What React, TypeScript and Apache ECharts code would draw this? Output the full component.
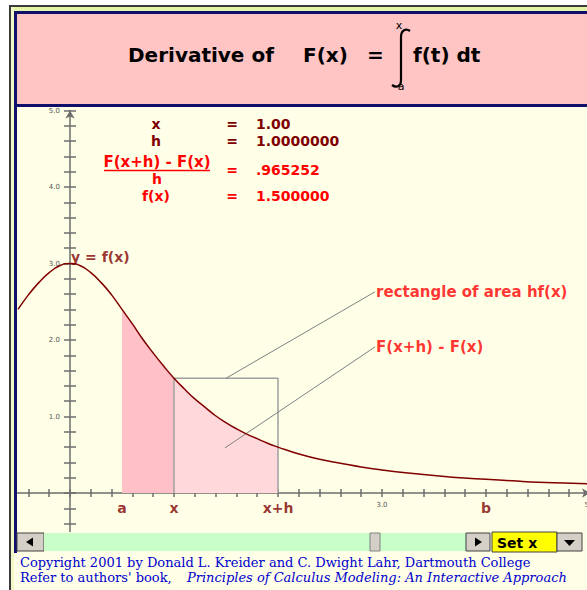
import React, { useEffect, useRef } from "react";
import * as echarts from "echarts";

// ---- data ----
const curveX = [-0.5, -0.4, -0.3, -0.2, -0.1, 0, 0.1, 0.2, 0.3, 0.4, 0.5, 0.6, 0.7, 0.8, 0.9, 1.0, 1.1, 1.2, 1.3, 1.4, 1.5, 1.6, 1.7, 1.8, 1.9, 2.0, 2.2, 2.4, 2.6, 2.8, 3.0, 3.25, 3.5, 3.75, 4.0, 4.25, 4.5, 4.75, 5.0];
const curveY = [2.40, 2.59, 2.75, 2.88, 2.97, 3.00, 2.97, 2.88, 2.75, 2.59, 2.40, 2.21, 2.01, 1.83, 1.66, 1.50, 1.36, 1.23, 1.12, 1.01, 0.92, 0.84, 0.77, 0.71, 0.65, 0.60, 0.51, 0.44, 0.39, 0.34, 0.30, 0.26, 0.23, 0.20, 0.18, 0.16, 0.14, 0.13, 0.12];

const markerNames = ["a", "x", "x+h", "b"];
const markerValues = [0.5, 1.0, 2.0, 4.0];

const xValue = 1.0;
const hValue = 1.0;
const quotientValue = 0.965252;
const fxValue = 1.5;

const xAxisLabelValues = [3, 5];
const yAxisLabelValues = [1, 2, 3, 4, 5];

const annotationNames = ["rectangle of area hf(x)", "F(x+h) - F(x)"];
const annotationFrom = [[2.933, 2.63], [2.933, 1.91]];
const annotationTo = [[1.5, 1.5], [1.49, 0.59]];

const curveLabel = "y = f(x)";

// ---- styling ----
const F = "DejaVu Sans";
const SERIF = "DejaVu Serif";
const DARK = "#800000";
const RED = "#ff0000";
const AX = "#6e6e6e";
const NAVY = "#10106a";
const PLOT_BG = "#ffffe8";

const isOneOf = (v: number, list: number[]) => list.some((t) => Math.abs(t - v) < 1e-6);

export default function App() {
  const ref = useRef<HTMLDivElement>(null);

  useEffect(() => {
    if (!ref.current) return;
    echarts.graphic.registerShape(
      "integralSign",
      echarts.graphic.extendPath("M 410 31 C 406 28 401 30 401 37 L 401 80 C 401 87 396 88 392 85", {})
    );
    const chart = echarts.init(ref.current, null, { renderer: "svg" });

    const curve = curveX.map((x, i) => [x, curveY[i]]);
    const darkArea = curve.filter((p) => p[0] >= markerValues[0] - 1e-9 && p[0] <= xValue + 1e-9);
    const lightArea = curve.filter((p) => p[0] >= xValue - 1e-9 && p[0] <= xValue + hValue + 1e-9);
    const rectData = [[xValue, 0], [xValue, fxValue], [xValue + hValue, fxValue], [xValue + hValue, 0]];

    const xMin = -0.6, xMax = 5.0, yMin = -0.6, yMax = 5.0;
    const gridLeft = 7.6, gridTop = 110.5, gridW = 582.4, gridH = 428.4;
    const xOffset = -(gridH * (0 - yMin) / (yMax - yMin));
    const yOffset = -(gridW * (0 - xMin) / (xMax - xMin));

    const baseText = { fontFamily: F, fontWeight: "bold", fontSize: 14 };
    const T = (text: string, x: number, y: number, fill: string, align = "left", extra: any = {}) => ({
      type: "text",
      z: 101,
      silent: true,
      style: { text, x, y, fill, align, verticalAlign: "middle", ...baseText, ...extra },
    });
    const R = (x: number, y: number, w: number, h: number, fill: string, stroke?: string) => ({
      type: "rect",
      z: 100,
      silent: true,
      shape: { x, y, width: w, height: h },
      style: stroke ? { fill, stroke, lineWidth: 1 } : { fill },
    });
    const P = (pts: number[][]) => ({
      type: "polygon",
      z: 101,
      silent: true,
      shape: { points: pts },
      style: { fill: "#000" },
    });

    const serifText = { fontFamily: SERIF, fontWeight: "normal", fontSize: 13 };

    const graphic: any[] = [
      R(0, 0, 587, 6, "#ffffff"),
      R(0, 0, 9, 590, "#ffffff"),
      R(9, 5, 578, 2, "#3a3a3a"),
      R(9, 5, 2, 585, "#3a3a3a"),
      R(11, 7, 576, 4, "#e4f4a8"),
      R(11, 7, 3, 583, "#f2f8c8"),
      R(14, 11, 573, 3, NAVY),
      R(14, 11, 3, 542, NAVY),
      R(17, 14, 570, 90, "#ffc4c4"),
      R(17, 104, 570, 3, NAVY),
      R(17, 532, 570, 21, PLOT_BG),
      R(14, 553, 573, 37, PLOT_BG),
      // title
      T("Derivative of", 128, 55, "#000", "left", { fontSize: 20 }),
      T("F(x)", 303, 55, "#000", "left", { fontSize: 20 }),
      T("=", 367, 55, "#000", "left", { fontSize: 20 }),
      T("f(t) dt", 413, 55, "#000", "left", { fontSize: 20 }),
      T("x", 399, 25, "#000", "center", { fontSize: 11, fontWeight: "normal" }),
      T("a", 401, 86, "#000", "center", { fontSize: 11, fontWeight: "normal" }),
      {
        type: "integralSign",
        z: 101,
        silent: true,
        x: 0,
        y: 0,
        style: { fill: "none", stroke: "#000", lineWidth: 2.2 },
      },
      // equation panel
      T("x", 156, 124, DARK, "center"),
      T("=", 232, 124, DARK, "center"),
      T(xValue.toFixed(2), 256, 124, DARK),
      T("h", 156, 141, DARK, "center"),
      T("=", 232, 141, DARK, "center"),
      T(hValue.toFixed(7), 256, 141, DARK),
      T("F(x+h) - F(x)", 157, 162, RED, "center", { fontSize: 15 }),
      {
        type: "line",
        z: 101,
        silent: true,
        shape: { x1: 104, y1: 170.5, x2: 210, y2: 170.5 },
        style: { stroke: RED, lineWidth: 1.5 },
      },
      T("h", 157, 179, RED, "center"),
      T("=", 232, 170, RED, "center"),
      T(quotientValue.toFixed(6).replace(/^0/, ""), 256, 170, RED),
      T("f(x)", 156, 196, RED, "center"),
      T("=", 232, 196, RED, "center"),
      T(fxValue.toFixed(6), 256, 196, RED),
      // scrollbar row
      R(17, 533, 27, 18, "#d4d0c8", "#404040"),
      P([[26, 542], [33, 537.5], [33, 546.5]]),
      R(44, 533, 422, 18, "#c8ffc8"),
      R(370, 533, 10, 18, "#d4d0c8", "#808080"),
      R(466, 533, 24, 18, "#d4d0c8", "#404040"),
      P([[475, 537.5], [482, 542], [475, 546.5]]),
      R(492, 532, 65, 20, "#ffff00", "#404040"),
      T("Set x", 497, 543, "#000", "left", { fontSize: 14 }),
      R(557, 533, 25, 18, "#d4d0c8", "#404040"),
      P([[564, 540], [575, 540], [569.5, 546]]),
      // copyright
      T("Copyright 2001 by Donald L. Kreider and C. Dwight Lahr, Dartmouth College", 20, 562, "#0000cc", "left", serifText),
      T("Refer to authors' book,", 20, 577, "#0000cc", "left", serifText),
      T("Principles of Calculus Modeling: An Interactive Approach", 187, 577, "#0000cc", "left", {
        ...serifText,
        fontStyle: "italic",
      }),
    ];

    const axisCommonX = {
      type: "value",
      min: xMin,
      max: xMax,
      interval: 0.2,
      position: "bottom",
      offset: xOffset,
      splitLine: { show: false },
    };
    const axisCommonY = {
      type: "value",
      min: yMin,
      max: yMax,
      interval: 0.2,
      position: "left",
      offset: yOffset,
      splitLine: { show: false },
    };

    const option: any = {
      animation: false,
      backgroundColor: PLOT_BG,
      grid: { left: gridLeft, top: gridTop, width: gridW, height: gridH, outerBoundsMode: "none" },
      xAxis: [
        {
          ...axisCommonX,
          axisLine: { show: true, onZero: false, lineStyle: { color: AX, width: 1.5 }, symbol: ["none", "arrow"], symbolSize: [7, 8] },
          axisTick: { show: true, inside: false, length: 4, lineStyle: { color: AX, width: 1.5 } },
          axisLabel: {
            show: true,
            margin: 8,
            fontSize: 7,
            color: "#555",
            fontFamily: F,
            formatter: (v: number) => (isOneOf(v, xAxisLabelValues) ? v.toFixed(1) : ""),
          },
        },
        {
          ...axisCommonX,
          axisLine: { show: false, onZero: false },
          axisTick: { show: true, inside: true, length: 4, lineStyle: { color: AX, width: 1.5 } },
          axisLabel: { show: false },
        },
      ],
      yAxis: [
        {
          ...axisCommonY,
          axisLine: { show: true, onZero: false, lineStyle: { color: AX, width: 1.5 }, symbol: ["none", "arrow"], symbolSize: [7, 8] },
          axisTick: { show: true, inside: false, length: 6, lineStyle: { color: AX, width: 1.5 } },
          axisLabel: {
            show: true,
            margin: 10,
            fontSize: 7,
            color: "#555",
            fontFamily: F,
            formatter: (v: number) => (isOneOf(v, yAxisLabelValues) ? v.toFixed(1) : ""),
          },
        },
        {
          ...axisCommonY,
          axisLine: { show: false, onZero: false },
          axisTick: { show: true, inside: true, length: 6, lineStyle: { color: AX, width: 1.5 } },
          axisLabel: { show: false },
        },
      ],
      graphic,
      series: [
        {
          type: "line",
          data: darkArea,
          smooth: true,
          showSymbol: false,
          lineStyle: { width: 0 },
          areaStyle: { color: "#ffc0c8", opacity: 1 },
          z: 1,
          silent: true,
        },
        {
          type: "line",
          data: lightArea,
          smooth: true,
          showSymbol: false,
          lineStyle: { width: 0 },
          areaStyle: { color: "#ffd8dc", opacity: 1 },
          z: 1,
          silent: true,
        },
        {
          type: "line",
          data: rectData,
          showSymbol: false,
          lineStyle: { color: "#a0a0a0", width: 1.5 },
          z: 3,
          silent: true,
        },
        ...annotationFrom.map((p, i) => ({
          type: "line",
          data: [p, annotationTo[i]],
          showSymbol: false,
          lineStyle: { color: "#808080", width: 1 },
          z: 3,
          silent: true,
        })),
        {
          type: "line",
          data: curve,
          smooth: true,
          showSymbol: false,
          lineStyle: { color: DARK, width: 1.5 },
          z: 4,
          silent: true,
        },
        {
          type: "scatter",
          data: annotationFrom.map((p, i) => ({ value: p, name: annotationNames[i] })),
          symbolSize: 0.1,
          itemStyle: { color: "transparent" },
          label: { show: true, position: "right", distance: 1, formatter: "{b}", color: RED, ...baseText, fontSize: 15 },
          z: 5,
          silent: true,
        },
        {
          type: "scatter",
          data: markerValues.map((v, i) => ({ value: [v, 0], name: markerNames[i] })),
          symbolSize: 0.1,
          itemStyle: { color: "transparent" },
          label: { show: true, position: "bottom", distance: 8, formatter: "{b}", color: DARK, ...baseText },
          z: 5,
          silent: true,
        },
        {
          type: "scatter",
          data: [{ value: [0, curveY[curveX.indexOf(0)]], name: curveLabel }],
          symbolSize: 0.1,
          itemStyle: { color: "transparent" },
          label: { show: true, position: "right", distance: 1, offset: [0, -7], formatter: "{b}", color: DARK, ...baseText },
          z: 5,
          silent: true,
        },
      ],
    };

    chart.setOption(option);
    return () => chart.dispose();
  }, []);

  return <div ref={ref} style={{ position: "fixed", left: 0, top: 0, width: 587, height: 590 }} />;
}
